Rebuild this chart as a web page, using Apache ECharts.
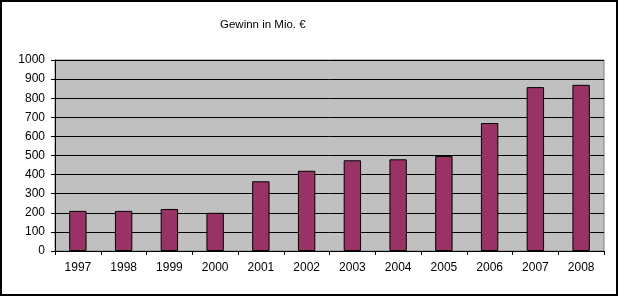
<!DOCTYPE html>
<html>
<head>
<meta charset="utf-8">
<script src="https://cdn.jsdelivr.net/npm/echarts@6/dist/echarts.min.js"></script>
<style>
html,body{margin:0;padding:0;background:#fff;}
#wrap{position:absolute;left:0;top:0;width:619px;height:296px;}
#frame{position:absolute;left:0;top:0;width:614px;height:292px;border:2px solid #000;pointer-events:none;}
#chart{position:absolute;left:0;top:0;width:619px;height:296px;}
</style>
</head>
<body>
<div id="wrap"><div id="chart"></div><div id="frame"></div></div>
<script>
const titleText = 'Gewinn in Mio. €';
const categories = ['1997','1998','1999','2000','2001','2002','2003','2004','2005','2006','2007','2008'];
const gewinn = [210, 210, 220, 200, 365, 420, 475, 480, 497, 670, 858, 870];
const yMin = 0, yMax = 1000, yStep = 100;

const chart = echarts.init(document.getElementById('chart'), null, {renderer:'canvas'});
const font = 'Liberation Sans, Arial, sans-serif';
chart.setOption({
  animation: false,
  backgroundColor: '#fff',
  title: {
    text: titleText,
    left: 215, top: 14,
    textStyle: {fontFamily: font, fontSize: 11.5, fontWeight: 'normal', color: '#000'}
  },
  grid: {
    left: 55, top: 60, right: 15, bottom: 45,
    show: true, backgroundColor: '#C0C0C0', borderColor: '#808080', borderWidth: 1
  },
  xAxis: {
    type: 'category',
    data: categories,
    boundaryGap: true,
    axisLine: {show: true, lineStyle: {color: '#000', width: 1}},
    axisTick: {show: true, length: 4, inside: false, lineStyle: {color: '#000'}},
    axisLabel: {fontFamily: font, fontSize: 12, color: '#000', margin: 11}
  },
  yAxis: {
    type: 'value',
    min: yMin, max: yMax, interval: yStep,
    axisLine: {show: true, lineStyle: {color: '#000', width: 1}},
    axisTick: {show: true, length: 4, lineStyle: {color: '#000'}},
    axisLabel: {fontFamily: font, fontSize: 12, color: '#000', margin: 10, formatter: v => String(v)},
    splitLine: {show: true, lineStyle: {color: '#000', width: 1}}
  },
  series: [{
    type: 'bar',
    data: gewinn,
    barWidth: '38%',
    itemStyle: {color: '#993366', borderColor: '#000', borderWidth: 1}
  }]
});
</script>
</body>
</html>
